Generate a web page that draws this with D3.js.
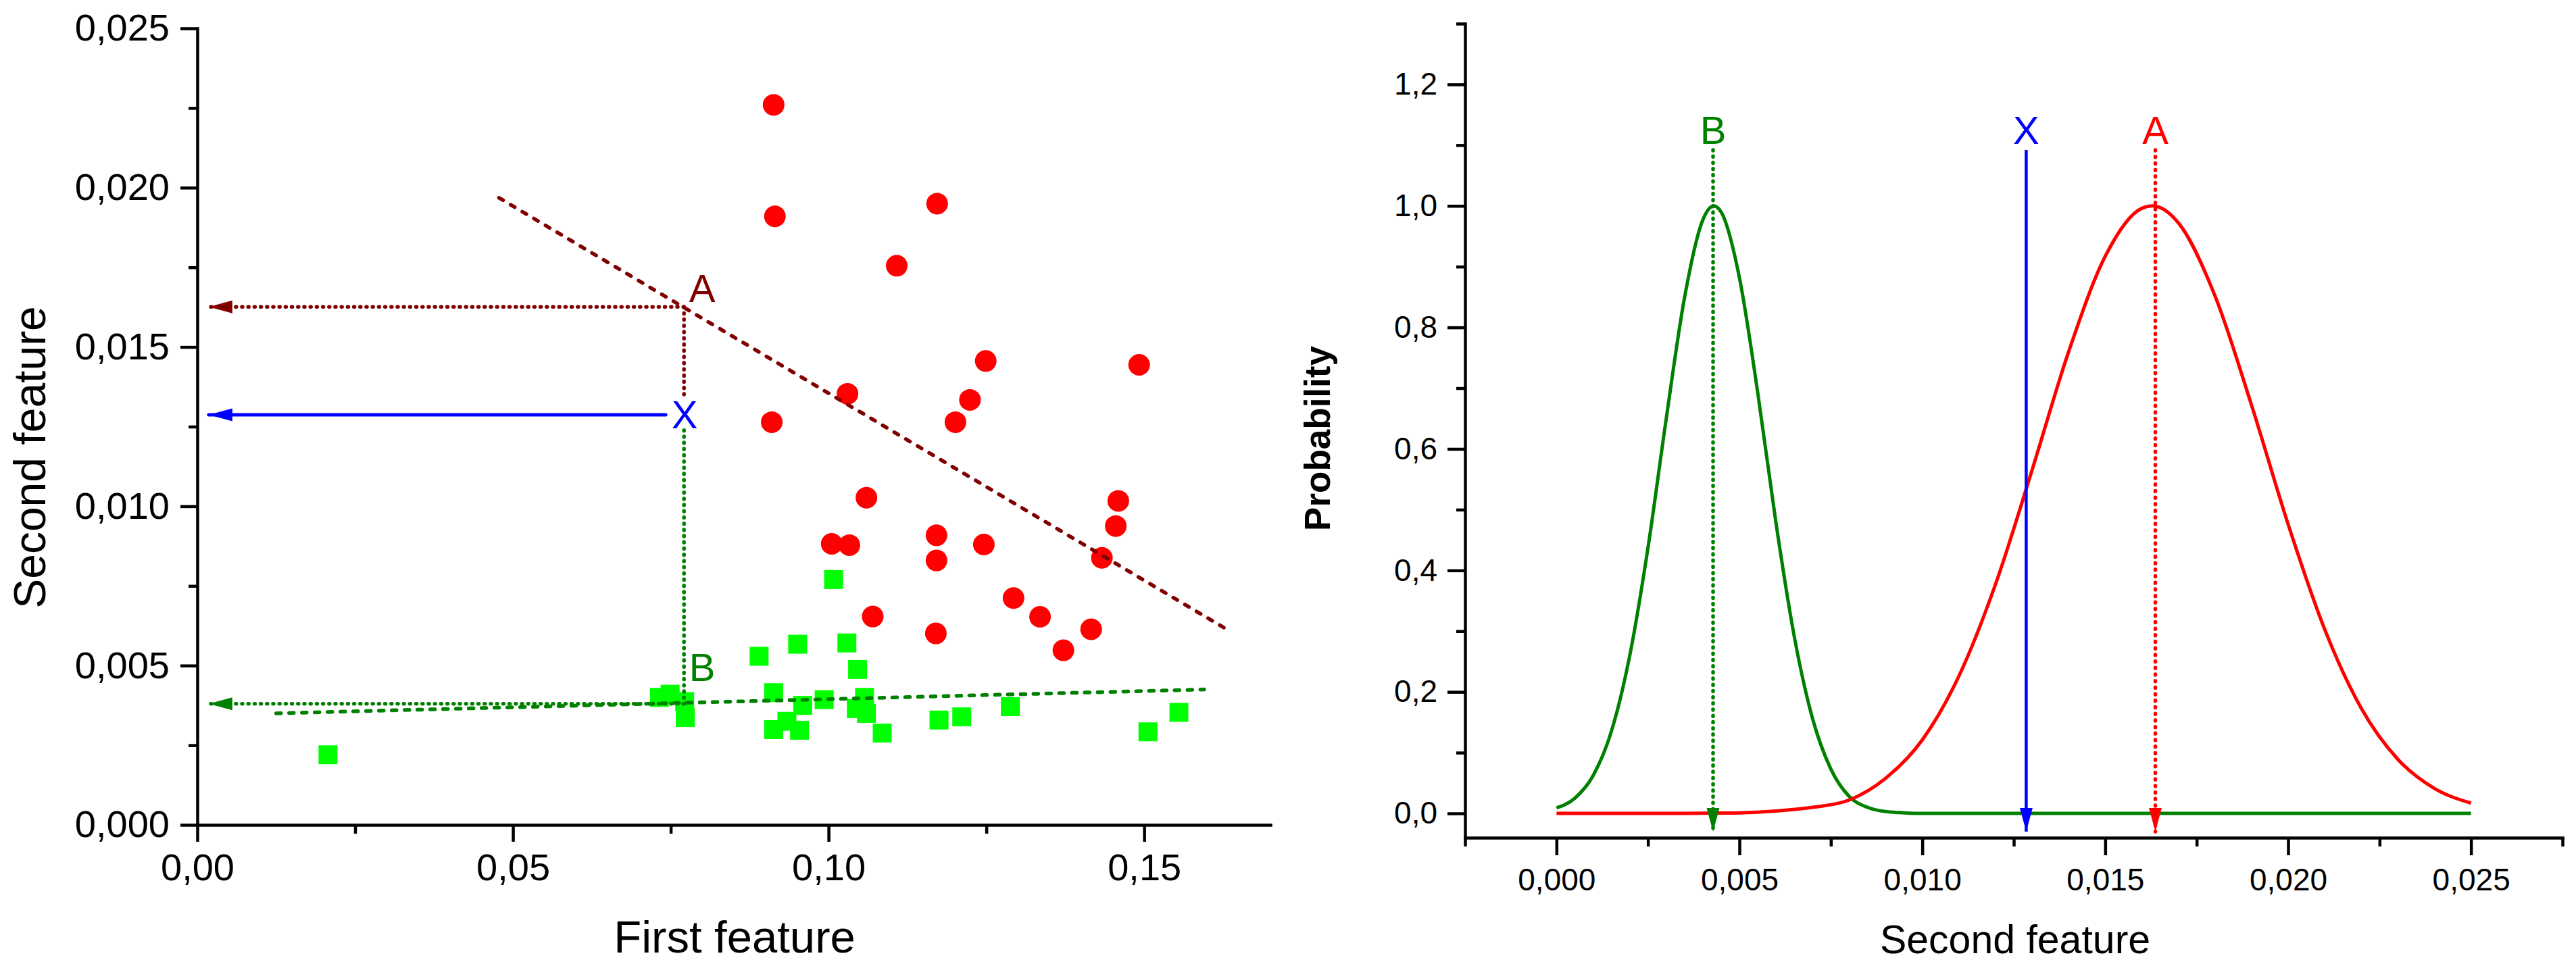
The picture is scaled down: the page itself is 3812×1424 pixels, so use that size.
<!DOCTYPE html>
<html lang="en">

<head>
    <meta charset="utf-8">
    <script type="text/javascript" src="https://cdn.jsdelivr.net/npm/d3@7/dist/d3.min.js"></script>
    <style>
        body { margin: 0; background: #fff; overflow: hidden; }
        svg text { font-family: Arial, "Liberation Sans", sans-serif; }
    </style>
</head>

<body>
    <script type="text/javascript">

        // ---------- data ----------

        // class A (red circles): first feature / second feature
        let classAx = [0.0913, 0.0915, 0.1172, 0.1108, 0.1249, 0.1492, 0.1030, 0.1224, 0.0910, 0.1201,
            0.1060, 0.1459, 0.1455, 0.1005, 0.1033, 0.1171, 0.1246, 0.1171, 0.1433, 0.1293,
            0.1335, 0.1070, 0.1416, 0.1170, 0.1372];
        let classAy = [0.0226, 0.0191, 0.0195, 0.01755, 0.01456, 0.01444, 0.01353, 0.01334, 0.01264, 0.01264,
            0.01027, 0.01017, 0.00938, 0.00882, 0.00878, 0.00909, 0.00880, 0.00830, 0.00838, 0.00712,
            0.00653, 0.00654, 0.00614, 0.00601, 0.00548];

        // class B (green squares)
        let classBx = [0.0207, 0.0732, 0.0749, 0.0772, 0.0773, 0.0890, 0.0913, 0.0913, 0.0934, 0.0951,
            0.0954, 0.0959, 0.0993, 0.1008, 0.1029, 0.1044, 0.1046, 0.1057, 0.1060, 0.1085,
            0.1175, 0.1211, 0.1288, 0.1506, 0.1555];
        let classBy = [0.0022, 0.0040, 0.0041, 0.00387, 0.00337, 0.00529, 0.00415, 0.00299, 0.00325, 0.00567,
            0.00297, 0.00375, 0.00393, 0.00770, 0.00571, 0.00365, 0.00488, 0.00400, 0.00350, 0.00288,
            0.00329, 0.00339, 0.00371, 0.00292, 0.00353];

        // separating lines (start, end)
        let lineAx = [0.0478, 0.1634];
        let lineAy = [0.01968, 0.0061];
        let lineBx = [0.0125, 0.1595];
        let lineBy = [0.0035, 0.00425];

        // the unknown sample X and its projections
        let sampleX = 0.0771;
        let projA = 0.01626;
        let projX = 0.01287;
        let projB = 0.0038;
        let arrowTipX = 0.0018;

        // probability curves (right panel)
        let probBx = [0, 0.0005, 0.001, 0.0015, 0.002, 0.0025, 0.003, 0.0035, 0.004, 0.0043, 0.0045, 0.005,
            0.0055, 0.006, 0.0065, 0.007, 0.0075, 0.008, 0.0085, 0.009, 0.0095, 0.010, 0.025];
        let probBy = [0.009, 0.025, 0.062, 0.135, 0.259, 0.437, 0.650, 0.849, 0.977, 1.000, 0.990, 0.882,
            0.693, 0.478, 0.291, 0.156, 0.073, 0.028, 0.010, 0.003, 0.001, 0, 0];
        let probAx = [0, 0.001, 0.002, 0.003, 0.004, 0.005, 0.006, 0.007, 0.008, 0.009, 0.010, 0.011,
            0.012, 0.013, 0.014, 0.015, 0.016, 0.0163, 0.017, 0.018, 0.019, 0.020, 0.021, 0.022,
            0.023, 0.024, 0.025];
        let probAy = [0, 0, 0, 0.0001, 0.0003, 0.001, 0.004, 0.010, 0.022, 0.058, 0.121, 0.226,
            0.377, 0.565, 0.760, 0.917, 0.996, 1.000, 0.972, 0.852, 0.672, 0.476, 0.303, 0.173,
            0.089, 0.041, 0.017];

        // vertical markers in the right panel
        let markB = 0.00428;
        let markX = 0.01284;
        let markA = 0.01637;
        let markTop = 1.092;
        let markBottom = -0.03;

        // tick values
        let leftXMajor = [0, 0.05, 0.10, 0.15];
        let leftXMinor = [0.025, 0.075, 0.125];
        let leftYMajor = [0, 0.005, 0.010, 0.015, 0.020, 0.025];
        let leftYMinor = [0.0025, 0.0075, 0.0125, 0.0175, 0.0225];
        let rightXMajor = [0, 0.005, 0.010, 0.015, 0.020, 0.025];
        let rightXMinor = [-0.0025, 0.0025, 0.0075, 0.0125, 0.0175, 0.0225, 0.0275];
        let rightYMajor = [0, 0.2, 0.4, 0.6, 0.8, 1.0, 1.2];
        let rightYMinor = [0.1, 0.3, 0.5, 0.7, 0.9, 1.1, 1.3];

        // ---------- drawing ----------

        let w = 3812;
        let h = 1424;

        let darkRed = "#800000";
        let darkGreen = "#008000";
        let blue = "#0000ff";
        let red = "#ff0000";
        let lime = "#00ff00";

        let locale = d3.formatLocale({ decimal: ",", thousands: " ", grouping: [3], currency: ["", ""] });

        let svg = d3.select("body").append("svg")
            .attr("width", w)
            .attr("height", h);

        svg.append("rect").attr("width", w).attr("height", h).attr("fill", "#fff");

        // arrow heads
        let defs = svg.append("defs");
        [["darkred", darkRed], ["blue", blue], ["darkgreen", darkGreen], ["red", red]].forEach(function (m) {
            defs.append("marker")
                .attr("id", "arrow-" + m[0])
                .attr("viewBox", "0 -10 35 20")
                .attr("refX", 35)
                .attr("refY", 0)
                .attr("markerWidth", 35)
                .attr("markerHeight", 20)
                .attr("markerUnits", "userSpaceOnUse")
                .attr("orient", "auto")
                .append("path")
                .attr("d", "M0,-9.5L35,0L0,9.5Z")
                .attr("fill", m[1]);
        });

        function styleAxis(g, fontSize) {
            g.attr("font-family", "Arial, 'Liberation Sans', sans-serif")
                .attr("font-size", fontSize);
            g.select(".domain").attr("stroke", "#000").attr("stroke-width", 4.5).attr("stroke-linecap", "square");
            g.selectAll(".tick line").attr("stroke", "#000").attr("stroke-width", 4.5);
            g.selectAll(".tick text").attr("fill", "#000");
        }

        function minorTicks(g, axis) {
            g.call(axis.tickSize(13).tickFormat(""));
            g.select(".domain").remove();
            g.selectAll(".tick line").attr("stroke", "#000").attr("stroke-width", 4.5);
        }

        let dotted = "1 8.2";
        let dashed = "7 13";

        // ===== left panel: scatter =====
        let xL = d3.scaleLinear().domain([0, 0.17]).range([292, 1880]);
        let yL = d3.scaleLinear().domain([0, 0.025]).range([1221, 42]);

        let left = svg.append("g");

        left.append("g")
            .attr("transform", "translate(0," + yL(0) + ")")
            .call(d3.axisBottom(xL).tickValues(leftXMajor).tickSize(25).tickSizeOuter(0)
                .tickPadding(17).tickFormat(locale.format(".2f")))
            .call(styleAxis, 56);
        left.append("g")
            .attr("transform", "translate(0," + yL(0) + ")")
            .call(minorTicks, d3.axisBottom(xL).tickValues(leftXMinor));

        left.append("g")
            .attr("transform", "translate(" + xL(0) + ",0)")
            .call(d3.axisLeft(yL).tickValues(leftYMajor).tickSize(25).tickSizeOuter(0)
                .tickPadding(16).tickFormat(locale.format(".3f")))
            .call(styleAxis, 56);
        left.append("g")
            .attr("transform", "translate(" + xL(0) + ",0)")
            .call(minorTicks, d3.axisLeft(yL).tickValues(leftYMinor));

        left.append("text")
            .attr("x", 1087).attr("y", 1410)
            .attr("text-anchor", "middle")
            .attr("font-size", 67)
            .text("First feature");

        left.append("text")
            .attr("transform", "translate(67,677) rotate(-90)")
            .attr("text-anchor", "middle")
            .attr("font-size", 66)
            .text("Second feature");

        // markers
        left.selectAll("rect.classB")
            .data(d3.zip(classBx, classBy))
            .join("rect")
            .attr("class", "classB")
            .attr("x", function (d) { return xL(d[0]) - 14; })
            .attr("y", function (d) { return yL(d[1]) - 14; })
            .attr("width", 28)
            .attr("height", 28)
            .attr("fill", lime);

        left.selectAll("circle.classA")
            .data(d3.zip(classAx, classAy))
            .join("circle")
            .attr("class", "classA")
            .attr("cx", function (d) { return xL(d[0]); })
            .attr("cy", function (d) { return yL(d[1]); })
            .attr("r", 16)
            .attr("fill", red);

        let lineL = d3.line()
            .x(function (d) { return xL(d[0]); })
            .y(function (d) { return yL(d[1]); });

        function leftPath(points, color, dash, marker, width) {
            let p = left.append("path")
                .attr("d", lineL(points))
                .attr("fill", "none")
                .attr("stroke", color)
                .attr("stroke-width", width || 5.5)
                .attr("stroke-linecap", "round");
            if (dash) p.attr("stroke-dasharray", dash);
            if (marker) p.attr("marker-end", "url(#arrow-" + marker + ")");
            return p;
        }

        // separating lines
        leftPath(d3.zip(lineAx, lineAy), darkRed, dashed);
        leftPath(d3.zip(lineBx, lineBy), darkGreen, "7 12");

        // projections of X
        leftPath([[sampleX, projA], [arrowTipX, projA]], darkRed, dotted, "darkred");
        leftPath([[sampleX, projA], [sampleX, 0.01342]], darkRed, dotted);
        leftPath([[0.0742, projX], [arrowTipX, projX]], blue, null, "blue", 5);
        leftPath([[sampleX, 0.01239], [sampleX, projB]], darkGreen, dotted);
        leftPath([[sampleX, projB], [arrowTipX, projB]], darkGreen, dotted, "darkgreen");

        left.append("text")
            .attr("x", xL(sampleX) + 27).attr("y", yL(projA) - 7)
            .attr("text-anchor", "middle").attr("font-size", 58)
            .attr("fill", darkRed).text("A");
        left.append("text")
            .attr("x", xL(sampleX) + 1).attr("y", yL(projX) + 20)
            .attr("text-anchor", "middle").attr("font-size", 58)
            .attr("fill", blue).text("X");
        left.append("text")
            .attr("x", xL(sampleX) + 27).attr("y", yL(projB) - 34)
            .attr("text-anchor", "middle").attr("font-size", 58)
            .attr("fill", darkGreen).text("B");

        // ===== right panel: probabilities =====
        let xR = d3.scaleLinear().domain([-0.0025, 0.0275]).range([2168, 3792]);
        let yR = d3.scaleLinear().domain([-0.04, 1.3]).range([1240, 35]);

        let right = svg.append("g");

        right.append("g")
            .attr("transform", "translate(0," + yR(-0.04) + ")")
            .call(d3.axisBottom(xR).tickValues(rightXMajor).tickSize(26).tickSizeOuter(0)
                .tickPadding(19).tickFormat(locale.format(".3f")))
            .call(styleAxis, 46);
        right.append("g")
            .attr("transform", "translate(0," + yR(-0.04) + ")")
            .call(minorTicks, d3.axisBottom(xR).tickValues(rightXMinor));

        right.append("g")
            .attr("transform", "translate(" + xR(-0.0025) + ",0)")
            .call(d3.axisLeft(yR).tickValues(rightYMajor).tickSize(26).tickSizeOuter(0)
                .tickPadding(15).tickFormat(locale.format(".1f")))
            .call(styleAxis, 46);
        right.append("g")
            .attr("transform", "translate(" + xR(-0.0025) + ",0)")
            .call(minorTicks, d3.axisLeft(yR).tickValues(rightYMinor));

        right.append("text")
            .attr("x", 2982).attr("y", 1411)
            .attr("text-anchor", "middle")
            .attr("font-size", 59)
            .text("Second feature");

        right.append("text")
            .attr("transform", "translate(1968,649) rotate(-90)")
            .attr("text-anchor", "middle")
            .attr("font-size", 53)
            .attr("font-weight", "bold")
            .text("Probability");

        let lineR = d3.line()
            .x(function (d) { return xR(d[0]); })
            .y(function (d) { return yR(d[1]); })
            .curve(d3.curveMonotoneX);

        right.append("path")
            .attr("d", lineR(d3.zip(probBx, probBy)))
            .attr("fill", "none")
            .attr("stroke", darkGreen)
            .attr("stroke-width", 5);

        right.append("path")
            .attr("d", lineR(d3.zip(probAx, probAy)))
            .attr("fill", "none")
            .attr("stroke", red)
            .attr("stroke-width", 5);

        let marks = [
            { v: markB, color: darkGreen, arrow: "darkgreen", dash: dotted, label: "B" },
            { v: markX, color: blue, arrow: "blue", dash: null, label: "X" },
            { v: markA, color: red, arrow: "red", dash: "1 8.7", label: "A" }
        ];

        marks.forEach(function (m) {
            let p = right.append("path")
                .attr("d", d3.line()([[xR(m.v), yR(markTop)], [xR(m.v), yR(markBottom)]]))
                .attr("fill", "none")
                .attr("stroke", m.color)
                .attr("stroke-width", m.dash ? 5.5 : 4.5)
                .attr("stroke-linecap", m.dash ? "round" : "butt")
                .attr("marker-end", "url(#arrow-" + m.arrow + ")");
            if (m.dash) p.attr("stroke-dasharray", m.dash);

            right.append("text")
                .attr("x", xR(m.v))
                .attr("y", yR(markTop) - 9)
                .attr("text-anchor", "middle")
                .attr("font-size", 58)
                .attr("fill", m.color)
                .text(m.label);
        });

    </script>
</body>

</html>
